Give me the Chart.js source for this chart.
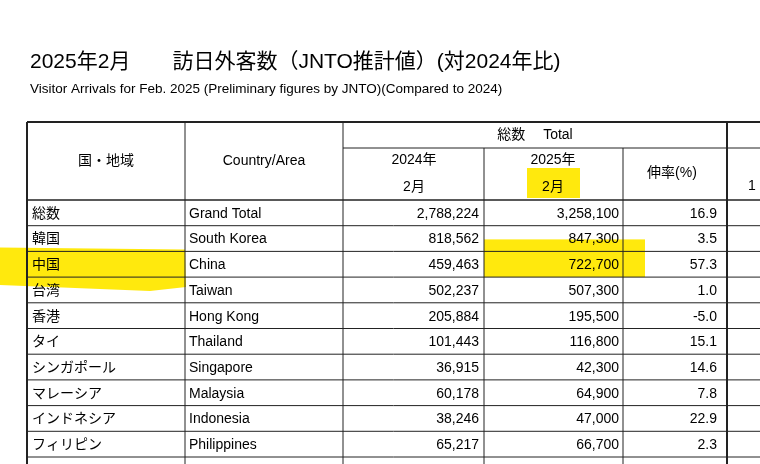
<!DOCTYPE html>
<html>
<head>
<meta charset="utf-8">
<script src="https://cdn.jsdelivr.net/npm/chart.js@4"></script>
<style>
  body { margin: 0; background: #fff; }
  canvas { display: block; }
</style>
</head>
<body>
<canvas id="tabla" width="760" height="464"></canvas>
<script>
// Datos de la tabla
const paisesJa = ['総数', '韓国', '中国', '台湾', '香港', 'タイ', 'シンガポール', 'マレーシア', 'インドネシア', 'フィリピン'];
const paisesEn = ['Grand Total', 'South Korea', 'China', 'Taiwan', 'Hong Kong', 'Thailand', 'Singapore', 'Malaysia', 'Indonesia', 'Philippines'];
const llegadas2024 = [2788224, 818562, 459463, 502237, 205884, 101443, 36915, 60178, 38246, 65217];
const llegadas2025 = [3258100, 847300, 722700, 507300, 195500, 116800, 42300, 64900, 47000, 66700];
const crecimiento = [16.9, 3.5, 57.3, 1.0, -5.0, 15.1, 14.6, 7.8, 22.9, 2.3];

const titulo = '2025年2月　　訪日外客数（JNTO推計値）(対2024年比)';
const subtitulo = 'Visitor Arrivals for Feb. 2025 (Preliminary figures by JNTO)(Compared to 2024)';

const fuente = '"Liberation Sans", "Noto Sans CJK JP", sans-serif';
const amarillo = '#ffe800';

// columnas y filas (en unidades de la escala)
const colBordes = [27, 185, 343, 484, 623, 727];
const filaInicio = 200;
const filaAlto = 25.7;

const tablaPlugin = {
  id: 'tabla',
  beforeDatasetsDraw(chart) {
    const ctx = chart.ctx;
    const sx = chart.scales.x, sy = chart.scales.y;
    const X = v => sx.getPixelForValue(v);
    const Y = v => sy.getPixelForValue(v);
    const filaY = i => Y(filaInicio + i * filaAlto);

    // resaltados
    ctx.save();
    ctx.fillStyle = amarillo;
    ctx.globalAlpha = 0.95;
    ctx.fillRect(X(527), Y(168), X(580) - X(527), Y(198) - Y(168));
    ctx.beginPath();
    ctx.moveTo(X(0), filaY(2) - 4);
    ctx.lineTo(X(185), filaY(2) - 2);
    ctx.lineTo(X(186), filaY(3) + 10);
    ctx.lineTo(X(150), filaY(3) + 14);
    ctx.lineTo(X(0), filaY(3) + 8);
    ctx.closePath();
    ctx.fill();
    ctx.fillRect(X(484), filaY(2) - 12, X(645) - X(484), filaY(3) - filaY(2) + 12);
    ctx.restore();

    // títulos
    ctx.fillStyle = '#000';
    ctx.textBaseline = 'middle';
    ctx.textAlign = 'left';
    ctx.font = '21px ' + fuente;
    ctx.fillText(titulo, X(30), Y(62));
    ctx.font = '13.5px ' + fuente;
    ctx.fillText(subtitulo, X(30), Y(89));

    // líneas
    ctx.strokeStyle = '#222';
    const linea = (x1, y1, x2, y2, w) => {
      ctx.lineWidth = w;
      ctx.beginPath();
      ctx.moveTo(x1, y1);
      ctx.lineTo(x2, y2);
      ctx.stroke();
    };
    const derecha = X(760);
    linea(X(27), Y(122), derecha, Y(122), 2);
    linea(X(343), Y(148), derecha, Y(148), 1);
    linea(X(27), Y(200), derecha, Y(200), 1.5);
    for (let i = 1; i <= paisesJa.length; i++) {
      linea(X(27), filaY(i), derecha, filaY(i), 1);
    }
    const abajo = Y(464);
    linea(X(27), Y(122), X(27), abajo, 2);
    linea(X(185), Y(122), X(185), abajo, 1);
    linea(X(343), Y(122), X(343), abajo, 1);
    linea(X(484), Y(148), X(484), abajo, 1);
    linea(X(623), Y(148), X(623), abajo, 1);
    linea(X(727), Y(122), X(727), abajo, 2);

    // encabezados
    ctx.font = '14px ' + fuente;
    ctx.textAlign = 'center';
    ctx.fillText('国・地域', X(106), Y(161));
    ctx.fillText('Country/Area', X(264), Y(161));
    ctx.fillText('総数　 Total', X(535), Y(135));
    ctx.fillText('2024年', X(414), Y(160));
    ctx.fillText('2月', X(414), Y(187));
    ctx.fillText('2025年', X(553), Y(160));
    ctx.fillText('2月', X(553), Y(187));
    ctx.fillText('伸率(%)', X(672), Y(173));
    ctx.fillText('1', X(752), Y(186));

    // filas
    paisesJa.forEach((nombre, i) => {
      const yc = filaY(i) + filaAlto / 2 + 1;
      ctx.textAlign = 'left';
      ctx.fillText(nombre, X(32), yc);
      ctx.fillText(paisesEn[i], X(189), yc);
      ctx.textAlign = 'right';
      ctx.fillText(llegadas2024[i].toLocaleString('en-US'), X(479), yc);
      ctx.fillText(llegadas2025[i].toLocaleString('en-US'), X(619), yc);
      ctx.fillText(crecimiento[i].toFixed(1), X(717), yc);
    });
  }
};

new Chart(document.getElementById('tabla'), {
  type: 'scatter',
  data: { datasets: [{ data: [] }] },
  options: {
    responsive: false,
    animation: false,
    layout: { padding: 0 },
    plugins: { legend: { display: false }, tooltip: { enabled: false } },
    scales: {
      x: { type: 'linear', min: 0, max: 760, display: false },
      y: { type: 'linear', min: 0, max: 464, reverse: true, display: false }
    }
  },
  plugins: [tablaPlugin]
});
</script>
</body>
</html>
